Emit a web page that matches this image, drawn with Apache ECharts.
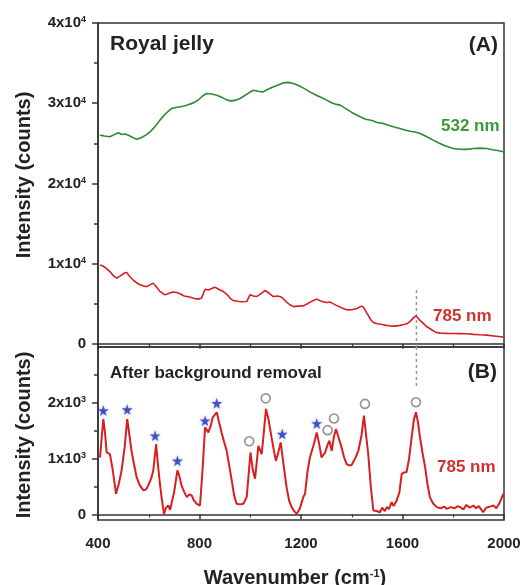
<!DOCTYPE html>
<html lang="en">
<head>
    <meta charset="UTF-8"/>
    <title>Royal jelly Raman spectra</title>
    <script src="https://cdn.jsdelivr.net/npm/echarts@6/dist/echarts.min.js"></script>
    <style>html, body { margin: 0; padding: 0; background: #fff; }</style>
</head>
<body>
<div id="main" style="width: 522px; height: 585px;"></div>
<script type="text/javascript">
    // raw spectrum, 532 nm excitation  [wavenumber, counts]
    var spec532 = [
        [408, 26020], [425, 25900], [447, 25810], [462, 26050], [480, 26310], [494, 26100], [506, 26150],
        [520, 26000], [535, 25750], [553, 25490], [570, 25700], [590, 26050], [605, 26430], [625, 27100],
        [644, 27890], [665, 28650], [690, 29350], [712, 29500], [736, 29630], [755, 29800], [776, 30040],
        [795, 30400], [812, 30900], [828, 31210], [848, 31150], [868, 31000], [890, 30700], [905, 30450],
        [920, 30290], [940, 30350], [960, 30590], [985, 31100], [1012, 31620], [1030, 31500], [1051, 31410],
        [1068, 31700], [1085, 31960], [1105, 32200], [1130, 32530], [1150, 32600], [1170, 32460], [1190, 32200],
        [1212, 31850], [1235, 31410], [1260, 31000], [1280, 30700], [1301, 30380], [1320, 30050], [1340, 29850],
        [1354, 29760], [1375, 29350], [1400, 28850], [1433, 28300], [1455, 28000], [1480, 27850], [1500, 27600],
        [1524, 27480], [1545, 27250], [1570, 27000], [1590, 26850], [1610, 26650], [1630, 26500], [1650, 26400],
        [1669, 26230], [1690, 25900], [1721, 25400], [1745, 25000], [1770, 24650], [1800, 24360], [1825, 24250],
        [1853, 24240], [1880, 24350], [1905, 24400], [1932, 24360], [1955, 24200], [1975, 24100], [1997, 23940]
    ];

    // raw spectrum, 785 nm excitation
    var spec785 = [
        [408, 9836], [420, 9700], [435, 9350], [447, 9000], [460, 8500], [474, 8180], [490, 8500], [505, 8850],
        [513, 8880], [525, 8400], [540, 7900], [555, 7550], [566, 7350], [580, 7200], [592, 7130], [605, 7350],
        [618, 7560], [630, 7100], [645, 6500], [664, 6100], [680, 6300], [695, 6450], [710, 6390], [725, 6200],
        [740, 5950], [750, 5890], [765, 5800], [780, 5650], [795, 5570], [808, 5700], [822, 6810], [835, 6700],
        [848, 6900], [861, 7060], [875, 6800], [894, 6510], [910, 6100], [920, 5700], [933, 5390], [950, 5300],
        [965, 5250], [986, 5270], [999, 6100], [1012, 5950], [1025, 5890], [1040, 6200], [1058, 6640], [1075, 6300],
        [1091, 5890], [1108, 5950], [1124, 5810], [1140, 5300], [1155, 4900], [1170, 4640], [1190, 4700], [1209, 4730],
        [1225, 5000], [1245, 5350], [1262, 5570], [1280, 5300], [1300, 5150], [1315, 5200], [1328, 4980], [1345, 4700],
        [1362, 4450], [1380, 4230], [1400, 4250], [1420, 4400], [1438, 4700], [1446, 4570], [1460, 3800], [1475, 3000],
        [1485, 2650], [1500, 2500], [1520, 2400], [1535, 2300], [1551, 2240], [1570, 2200], [1590, 2300], [1605, 2400],
        [1617, 2490], [1630, 2800], [1645, 3300], [1653, 3490], [1665, 3050], [1680, 2600], [1695, 2150], [1715, 1750],
        [1730, 1450], [1748, 1330], [1775, 1300], [1800, 1280], [1825, 1270], [1853, 1250], [1880, 1180], [1905, 1130],
        [1932, 1080], [1960, 980], [1980, 900], [1997, 830]
    ];

    // 785 nm after background removal
    var specCorrected = [
        [408, 1020], [415, 1400], [421, 1710], [428, 1450], [434, 1110], [447, 1080], [458, 800], [471, 370],
        [482, 550], [493, 790], [505, 1200], [515, 1710], [523, 1450], [532, 1140], [542, 900], [552, 670],
        [565, 520], [579, 430], [590, 450], [598, 520], [610, 650], [618, 790], [629, 1260], [636, 900],
        [644, 550], [652, 250], [660, 10], [668, 120], [677, 160], [684, 80], [690, 70], [700, 400],
        [713, 790], [720, 700], [729, 520], [740, 400], [750, 310], [760, 360], [769, 340], [778, 250],
        [789, 190], [802, 160], [812, 800], [822, 1560], [835, 1470], [845, 1600], [852, 1740], [868, 1830],
        [877, 1650], [887, 1470], [897, 1300], [907, 1140], [917, 880], [927, 610], [936, 350], [946, 190],
        [960, 180], [973, 190], [986, 310], [1001, 1110], [1010, 800], [1019, 640], [1032, 1230], [1045, 1080],
        [1052, 1400], [1062, 1890], [1072, 1700], [1084, 1380], [1093, 1150], [1101, 960], [1110, 1100], [1120, 1290],
        [1131, 900], [1143, 490], [1153, 250], [1163, 130], [1173, 60], [1183, 10], [1195, 100], [1209, 310],
        [1216, 370], [1225, 750], [1235, 1020], [1250, 1250], [1262, 1470], [1272, 1250], [1281, 1020], [1295, 1110],
        [1305, 1250], [1312, 1320], [1321, 1140], [1330, 1400], [1338, 1530], [1350, 1350], [1360, 1200], [1370, 1020],
        [1380, 900], [1390, 880], [1399, 880], [1413, 1000], [1426, 1140], [1438, 1400], [1448, 1770], [1457, 1400],
        [1465, 1080], [1475, 500], [1485, 70], [1498, 60], [1511, 40], [1520, 120], [1530, 60], [1538, 130],
        [1547, 100], [1557, 220], [1565, 150], [1577, 250], [1588, 400], [1597, 730], [1606, 750], [1616, 760],
        [1626, 1000], [1636, 1380], [1645, 1700], [1653, 1830], [1661, 1650], [1669, 1380], [1679, 1100], [1689, 850],
        [1698, 550], [1708, 310], [1720, 200], [1735, 130], [1750, 110], [1765, 140], [1774, 100], [1790, 130],
        [1805, 110], [1818, 150], [1827, 130], [1840, 90], [1852, 170], [1865, 120], [1879, 160], [1890, 110],
        [1900, 150], [1918, 40], [1930, 120], [1945, 140], [1958, 160], [1970, 110], [1984, 220], [1997, 370]
    ];

    // peak assignments (blue stars / open circles)
    var starPeaks = [[421, 1860], [515, 1880], [625, 1410], [713, 960], [822, 1680], [868, 1990], [1126, 1440], [1262, 1630]];
    var circlePeaks = [[996, 1310], [1061, 2080], [1305, 1510], [1330, 1720], [1452, 1980], [1653, 2010]];

    // dashed guide at the amide I band
    var guideWavenumber = 1655;
    var guideTopSpan = [6700, -400];
    var guideBottomSpan = [3000, 2300];

    var topTicks = [0, 10000, 20000, 30000, 40000];
    var topMinorTicks = [5000, 15000, 25000, 35000];
    var bottomTicks = [0, 1000, 2000];
    var bottomMinorTicks = [500, 1500, 2500];

    var FONT = 'Liberation Sans';
    var INK = '#222';
    var GREEN = '#2f8a2f';
    var RED = '#d81f1f';
    var starPath = 'path://M50,0 L61,35 L98,35 L68,57 L79,91 L50,70 L21,91 L32,57 L2,35 L39,35 Z';

    function sciLabel(exp) {
        return function (v) {
            if (v === 0) return '0';
            return (v / Math.pow(10, exp)) + 'x10{sup|' + exp + '}';
        };
    }

    function mainY(grid, min, max, ticks, exp) {
        return {
            type: 'value', gridIndex: grid, min: min, max: max, position: 'left',
            axisLine: { show: true, lineStyle: { color: '#333', width: 1.5 } },
            axisTick: { show: true, customValues: ticks, length: 6, lineStyle: { color: '#333', width: 1.5 } },
            axisLabel: {
                customValues: ticks, formatter: sciLabel(exp), margin: 12,
                color: INK, fontSize: 15, fontWeight: 'bold', fontFamily: FONT,
                rich: { sup: { fontSize: 9, fontWeight: 'bold', fontFamily: FONT, color: INK, verticalAlign: 'top' } }
            },
            splitLine: { show: false }
        };
    }

    function minorY(grid, min, max, ticks) {
        return {
            type: 'value', gridIndex: grid, min: min, max: max, position: 'left', offset: 0,
            axisLine: { show: false },
            axisTick: { show: true, customValues: ticks, length: 4, lineStyle: { color: '#333', width: 1.5 } },
            axisLabel: { show: false },
            splitLine: { show: false }
        };
    }

    function xAxisFor(grid, showLabels) {
        return {
            type: 'value', gridIndex: grid, min: 400, max: 2000, interval: 400,
            axisLine: { show: true, lineStyle: { color: '#333', width: 1.5 } },
            axisTick: { show: true, length: 5, lineStyle: { color: '#333', width: 1.5 } },
            minorTick: { show: true, splitNumber: 2, length: 3, lineStyle: { color: '#333', width: 1.2 } },
            axisLabel: {
                show: showLabels, margin: 16, color: INK, fontSize: 15, fontWeight: 'bold', fontFamily: FONT,
                formatter: function (v) { return String(v); }
            },
            splitLine: { show: false }
        };
    }

    function guideLine(xIdx, yIdx, span) {
        return {
            type: 'line', xAxisIndex: xIdx, yAxisIndex: yIdx, symbol: 'none', silent: true,
            data: span.map(function (v) { return [guideWavenumber, v]; }),
            lineStyle: { color: '#999', width: 1.5, type: [3, 3] }
        };
    }

    function label(text, x, y, size, color, align) {
        return {
            type: 'text', x: x, y: y, silent: true,
            style: {
                text: text, fill: color || INK, align: align || 'left', verticalAlign: 'middle',
                font: 'bold ' + size + 'px "' + FONT + '"'
            }
        };
    }

    var myChart = echarts.init(document.getElementById('main'));

    var option = {
        animation: false,
        backgroundColor: '#fff',
        grid: [
            { left: 98, right: 18, top: 23, height: 324, show: true, borderColor: '#333', borderWidth: 1.5,
              containLabel: false, outerBoundsMode: 'none' },
            { left: 98, right: 18, top: 347, height: 173, show: true, borderColor: '#333', borderWidth: 1.5,
              containLabel: false, outerBoundsMode: 'none' }
        ],
        xAxis: [xAxisFor(0, false), xAxisFor(1, true)],
        yAxis: [
            mainY(0, -400, 40000, topTicks, 4),
            minorY(0, -400, 40000, topMinorTicks),
            mainY(1, -100, 3000, bottomTicks, 3),
            minorY(1, -100, 3000, bottomMinorTicks)
        ],
        series: [
            guideLine(0, 0, guideTopSpan),
            guideLine(1, 2, guideBottomSpan),
            {
                name: '532 nm', type: 'line', xAxisIndex: 0, yAxisIndex: 0, symbol: 'none',
                data: spec532, lineStyle: { color: GREEN, width: 1.6 }
            },
            {
                name: '785 nm', type: 'line', xAxisIndex: 0, yAxisIndex: 0, symbol: 'none',
                data: spec785, lineStyle: { color: RED, width: 1.6 }
            },
            {
                name: '785 nm corrected', type: 'line', xAxisIndex: 1, yAxisIndex: 2, symbol: 'none',
                data: specCorrected, lineStyle: { color: RED, width: 2 }
            },
            {
                type: 'scatter', xAxisIndex: 1, yAxisIndex: 2, symbol: starPath, symbolSize: 11,
                data: starPeaks, itemStyle: { color: '#2233b0', shadowBlur: 3, shadowColor: 'rgba(80,110,255,0.6)' }
            },
            {
                type: 'scatter', xAxisIndex: 1, yAxisIndex: 2, symbol: 'circle', symbolSize: 9,
                data: circlePeaks, itemStyle: { color: '#fff', borderColor: '#777', borderWidth: 1.6 }
            }
        ],
        graphic: [
            label('Royal jelly', 110, 44, 21),
            label('(A)', 498, 45, 21, INK, 'right'),
            label('532 nm', 441, 126, 17, '#3a9a3a'),
            label('785 nm', 433, 316, 17, '#d33030'),
            label('After background removal', 110, 373, 17),
            label('(B)', 497, 372, 21, INK, 'right'),
            label('785 nm', 437, 467, 17, '#d33030'),
            {
                type: 'text', x: 24, y: 175, rotation: Math.PI / 2, silent: true,
                style: { text: 'Intensity (counts)', fill: INK, align: 'center', verticalAlign: 'middle', font: 'bold 20px "' + FONT + '"' }
            },
            {
                type: 'text', x: 24, y: 435, rotation: Math.PI / 2, silent: true,
                style: { text: 'Intensity (counts)', fill: INK, align: 'center', verticalAlign: 'middle', font: 'bold 20px "' + FONT + '"' }
            },
            {
                type: 'text', x: 295, y: 578, silent: true,
                style: {
                    text: 'Wavenumber (cm{sup|-1})', fill: INK, align: 'center', verticalAlign: 'middle',
                    font: 'bold 20px "' + FONT + '"',
                    rich: { sup: { fontSize: 11, fontWeight: 'bold', fontFamily: FONT, fill: INK, verticalAlign: 'top' } }
                }
            }
        ]
    };

    myChart.setOption(option);
</script>
</body>
</html>
